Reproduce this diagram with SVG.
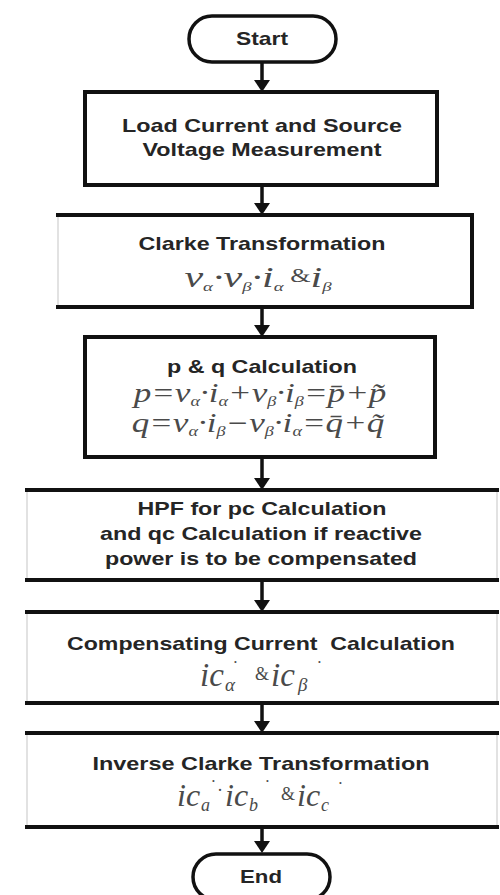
<svg xmlns="http://www.w3.org/2000/svg" width="500" height="895" viewBox="0 0 500 895">
<style>
.bg{fill:#ffffff}
.box{fill:#ffffff;stroke:#111111;stroke-width:4}
.term{fill:#ffffff;stroke:#111111;stroke-width:3.5}
.edge{fill:none;stroke:#111111;stroke-width:4}
.faint{fill:none;stroke:#d8d8d8;stroke-width:1.5}
.t{font-family:"Liberation Sans",Arial,sans-serif;font-weight:bold;font-size:18.5px;fill:#252525;text-anchor:middle}
.m{font-family:"Liberation Serif","Times New Roman",serif;font-style:italic;fill:#4a4a4a}
.up{font-style:normal}
.dot{font-style:normal;font-size:8px}
.conn{stroke:#111111;stroke-width:3.5;fill:none;marker-end:url(#ah)}
</style>
<defs>
<marker id="ah" markerUnits="userSpaceOnUse" viewBox="0 0 12 16" refX="0" refY="8" markerWidth="12" markerHeight="16" orient="auto">
<path d="M0,0 L12,8 L0,16 Z" fill="#111111"/>
</marker>
</defs>
<rect class="bg" x="0" y="0" width="500" height="895"/>

<g id="connectors">
<line class="conn" x1="262" y1="62" x2="262" y2="80"/>
<line class="conn" x1="262" y1="185" x2="262" y2="203"/>
<line class="conn" x1="262" y1="307" x2="262" y2="325"/>
<line class="conn" x1="262" y1="457" x2="262" y2="478"/>
<line class="conn" x1="262" y1="580" x2="262" y2="600"/>
<line class="conn" x1="262" y1="703" x2="262" y2="721"/>
<line class="conn" x1="262" y1="827" x2="262" y2="841"/>
</g>

<g id="start">
<rect class="term" x="189" y="16" width="147" height="46" rx="23"/>
<text class="t" x="262" y="45" textLength="52" lengthAdjust="spacingAndGlyphs">Start</text>
</g>

<g id="measurement">
<rect class="box" x="85" y="92" width="352" height="93"/>
<text class="t" x="262" y="132" textLength="280" lengthAdjust="spacingAndGlyphs">Load Current and Source</text>
<text class="t" x="262" y="156" textLength="239" lengthAdjust="spacingAndGlyphs">Voltage Measurement</text>
</g>

<g id="clarke">
<rect class="bg" x="58" y="215" width="414" height="92"/>
<line class="faint" x1="58" y1="215" x2="58" y2="307"/>
<path class="edge" d="M56,215 H472 V307 H56"/>
<text class="t" x="262" y="250" textLength="247" lengthAdjust="spacingAndGlyphs">Clarke Transformation</text>
<text class="m" font-size="29" text-anchor="middle" transform="translate(258 287) scale(1.45 1)">v<tspan font-size="13" dy="4">α</tspan><tspan dy="-4">·v</tspan><tspan font-size="13" dy="4">β</tspan><tspan dy="-4">·i</tspan><tspan font-size="13" dy="4">α</tspan><tspan class="up" font-size="18" dy="-9"> &amp;</tspan><tspan dy="5">i</tspan><tspan font-size="13" dy="4">β</tspan></text>
</g>

<g id="pq">
<rect class="box" x="85" y="337" width="350" height="120"/>
<text class="t" x="262" y="373" textLength="190" lengthAdjust="spacingAndGlyphs">p &amp; q Calculation</text>
<text class="m" font-size="27" text-anchor="middle" transform="translate(260 402) scale(1.3 1)">p=v<tspan font-size="14" dy="4">α</tspan><tspan dy="-4">·i</tspan><tspan font-size="14" dy="4">α</tspan><tspan dy="-4">+v</tspan><tspan font-size="14" dy="4">β</tspan><tspan dy="-4">·i</tspan><tspan font-size="14" dy="4">β</tspan><tspan dy="-4">=p̄+p̃</tspan></text>
<text class="m" font-size="27" text-anchor="middle" transform="translate(258 432) scale(1.3 1)">q=v<tspan font-size="14" dy="4">α</tspan><tspan dy="-4">·i</tspan><tspan font-size="14" dy="4">β</tspan><tspan dy="-4">−v</tspan><tspan font-size="14" dy="4">β</tspan><tspan dy="-4">·i</tspan><tspan font-size="14" dy="4">α</tspan><tspan dy="-4">=q̄+q̃</tspan></text>
</g>

<g id="hpf">
<line class="faint" x1="27" y1="490" x2="27" y2="580"/>
<line class="faint" x1="497" y1="490" x2="497" y2="580"/>
<line class="edge" x1="25" y1="490" x2="499" y2="490"/>
<line class="edge" x1="25" y1="580" x2="499" y2="580"/>
<text class="t" x="262" y="515" textLength="249" lengthAdjust="spacingAndGlyphs">HPF for pc Calculation</text>
<text class="t" x="261" y="540" textLength="322" lengthAdjust="spacingAndGlyphs">and qc Calculation if reactive</text>
<text class="t" x="261" y="565" textLength="312" lengthAdjust="spacingAndGlyphs">power is to be compensated</text>
</g>

<g id="compensating">
<line class="faint" x1="27" y1="612" x2="27" y2="703"/>
<line class="faint" x1="497" y1="612" x2="497" y2="703"/>
<line class="edge" x1="25" y1="612" x2="499" y2="612"/>
<line class="edge" x1="25" y1="703" x2="499" y2="703"/>
<text class="t" x="261" y="650" textLength="388" lengthAdjust="spacingAndGlyphs" xml:space="preserve">Compensating Current  Calculation</text>
<text class="m" font-size="33"><tspan x="200" y="686">ic</tspan><tspan font-size="19" x="225" y="691">α</tspan><tspan class="dot" x="234" y="665">•</tspan><tspan class="up" font-size="18" x="255" y="680">&amp;</tspan><tspan x="271" y="686">ic</tspan><tspan font-size="19" x="298" y="691">β</tspan><tspan class="dot" x="318" y="665">•</tspan></text>
</g>

<g id="inverse">
<line class="faint" x1="27" y1="733" x2="27" y2="827"/>
<line class="faint" x1="497" y1="733" x2="497" y2="827"/>
<line class="edge" x1="25" y1="733" x2="499" y2="733"/>
<line class="edge" x1="25" y1="827" x2="499" y2="827"/>
<text class="t" x="261" y="770" textLength="337" lengthAdjust="spacingAndGlyphs">Inverse Clarke Transformation</text>
<text class="m" font-size="32"><tspan x="177" y="806">ic</tspan><tspan font-size="18" x="201" y="811">a</tspan><tspan class="dot" x="212" y="784">•</tspan><tspan class="up" font-size="18" x="217" y="796">·</tspan><tspan x="225" y="806">ic</tspan><tspan font-size="18" x="249" y="811">b</tspan><tspan class="dot" x="266" y="784">•</tspan><tspan class="up" font-size="18" x="281" y="800">&amp;</tspan><tspan x="297" y="806">ic</tspan><tspan font-size="18" x="321" y="811">c</tspan><tspan class="dot" x="339" y="786">•</tspan></text>
</g>

<g id="end">
<rect class="term" x="193" y="854" width="137" height="46" rx="23"/>
<text class="t" x="261" y="883" textLength="42" lengthAdjust="spacingAndGlyphs">End</text>
</g>
</svg>
